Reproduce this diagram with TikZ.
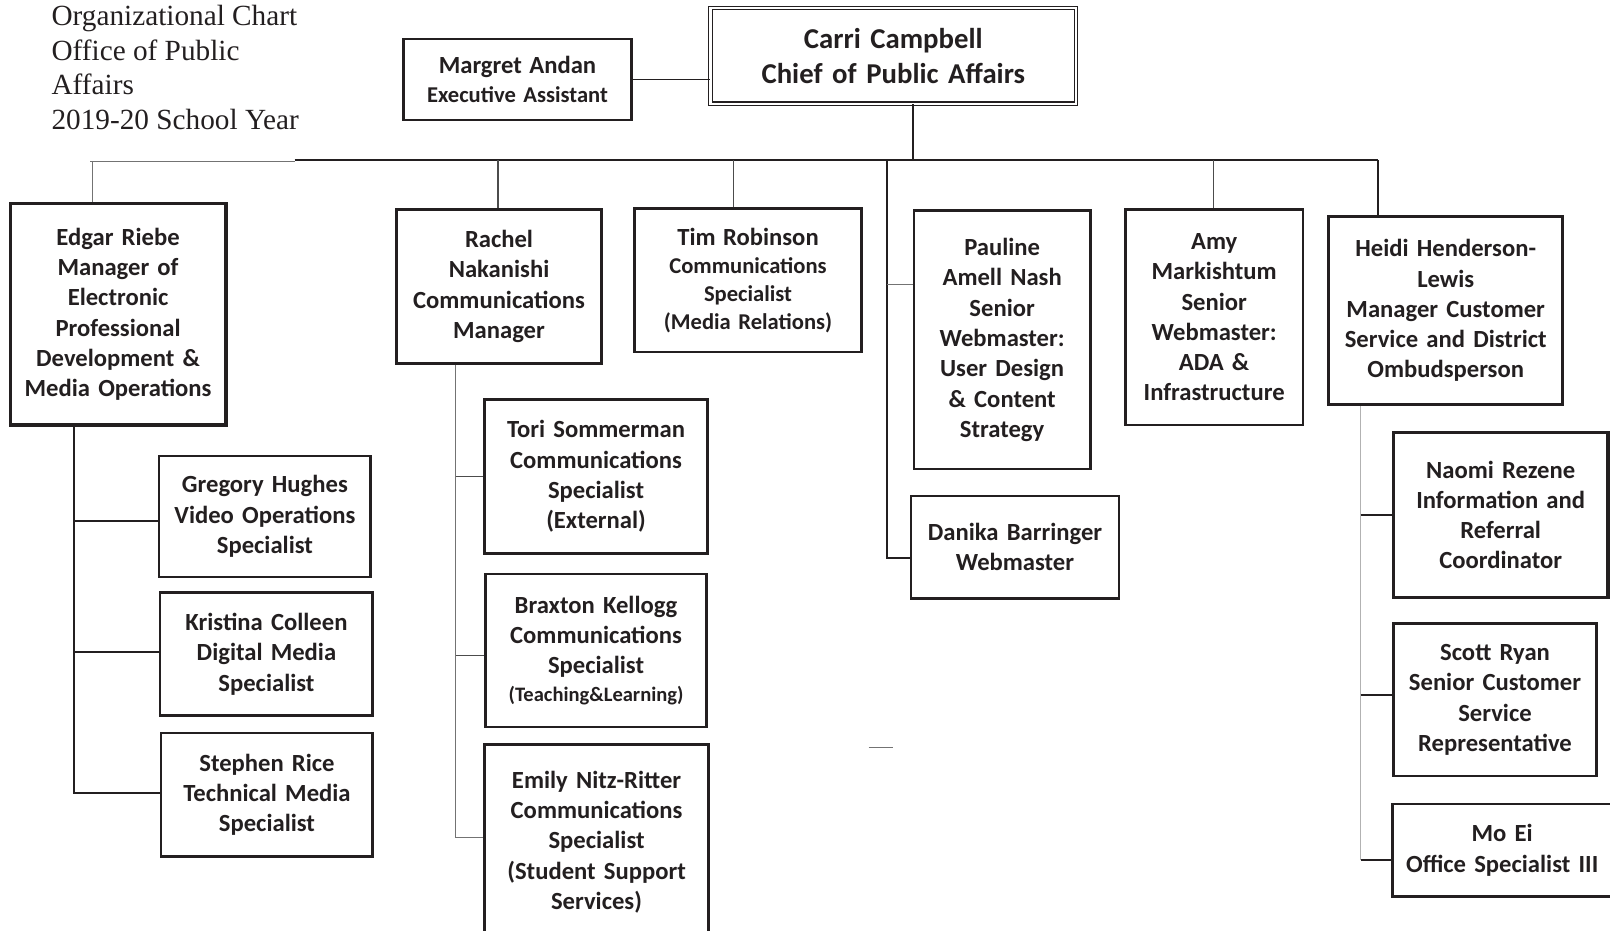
\documentclass[tikz,border=0pt]{standalone}
\usepackage{fontspec}
\setmainfont{Liberation Serif}
\newfontfamily\carl{Carlito}
\definecolor{ink}{HTML}{231F20}
\begin{document}
\begin{tikzpicture}[x=1pt,y=-1pt,
  box/.style={draw=ink, line width=2.4pt, fill=white, text=ink, align=center, inner sep=0pt,
    font=\carl\bfseries\fontsize{24}{29.5}\selectfont},
  heavy/.style={line width=3.2pt},
  link/.style={draw=ink, line width=2pt},
  fine/.style={draw=black!55, line width=1pt},
  pale/.style={draw=black!30, line width=1.3pt}]
\useasboundingbox (0,0) rectangle (1568,906);

% title
\node[anchor=north west, align=left, inner sep=0pt, text=ink,
  font=\fontsize{28.5}{34}\selectfont] (title) at (50,4.5)
  {Organizational Chart\\Office of Public\\Affairs\\2019-20 School Year};

% top level
\node[box, minimum width=222pt, minimum height=79pt, text width=216pt,
  font=\carl\bfseries\fontsize{22}{28}\selectfont] (margret) at (504,77.5)
  {{\fontsize{24}{28}\selectfont Margret Andan}\\Executive Assistant};
\node[box, double, double distance=2.2pt, line width=1.1pt, minimum width=356pt,
  minimum height=93pt, text width=340pt, font=\carl\bfseries\fontsize{28}{34}\selectfont]
  (carri) at (870,54.5) {Carri Campbell\\Chief of Public Affairs};

% managers
\node[box, heavy, minimum width=210pt, minimum height=216pt, text width=204pt] (edgar) at (115,306)
  {Edgar Riebe\\Manager of\\Electronic\\Professional\\Development \&\\Media Operations};
\node[box, minimum width=200pt, minimum height=150pt, text width=194pt] (rachel) at (486,279)
  {Rachel\\Nakanishi\\Communications\\Manager};
\node[box, minimum width=221pt, minimum height=140pt, text width=215pt,
  font=\carl\bfseries\fontsize{22}{27.3}\selectfont] (tim) at (728.5,273)
  {{\fontsize{24}{27.3}\selectfont Tim Robinson}\\Communications\\Specialist\\(Media Relations)};
\node[box, minimum width=172pt, minimum height=252pt, text width=166pt] (pauline) at (976,331)
  {Pauline\\Amell Nash\\Senior\\Webmaster:\\User Design\\\& Content\\Strategy};
\node[box, minimum width=173pt, minimum height=210pt, text width=167pt] (amy) at (1182.5,309)
  {Amy\\Markishtum\\Senior\\Webmaster:\\ADA \&\\Infrastructure};
\node[box, heavy, minimum width=228pt, minimum height=183pt, text width=222pt] (heidi) at (1408,302.5)
  {Heidi Henderson-\\Lewis\\Manager Customer\\Service and District\\Ombudsperson};
\node[box, minimum width=203pt, minimum height=100pt, text width=197pt] (danika) at (988.5,533)
  {Danika Barringer\\Webmaster};

% Edgar's staff
\node[box, minimum width=206pt, minimum height=118pt, text width=200pt] (gregory) at (258,503)
  {Gregory Hughes\\Video Operations\\Specialist};
\node[box, minimum width=207pt, minimum height=120pt, text width=201pt] (kristina) at (259.5,637)
  {Kristina Colleen\\Digital Media\\Specialist};
\node[box, minimum width=206pt, minimum height=120pt, text width=200pt] (stephen) at (260,774)
  {Stephen Rice\\Technical Media\\Specialist};

% Rachel's staff
\node[box, minimum width=217pt, minimum height=150pt, text width=211pt] (tori) at (580.5,464)
  {Tori Sommerman\\Communications\\Specialist\\(External)};
\node[box, minimum width=215pt, minimum height=149pt, text width=209pt] (braxton) at (580.5,633.5)
  {Braxton Kellogg\\Communications\\Specialist\\[-2.5pt]{\fontsize{20}{24}\selectfont(Teaching\&Learning)}};
\node[box, minimum width=218pt, minimum height=190pt, text width=212pt] (emily) at (581,820)
  {Emily Nitz-Ritter\\Communications\\Specialist\\(Student Support\\Services)};

% Heidi's staff
\node[box, heavy, minimum width=209pt, minimum height=161pt, text width=203pt] (naomi) at (1461.5,501.5)
  {Naomi Rezene\\Information and\\Referral\\Coordinator};
\node[box, minimum width=198pt, minimum height=149pt, text width=192pt] (scott) at (1456,681.5)
  {Scott Ryan\\Senior Customer\\Service\\Representative};
\node[box, minimum width=214pt, minimum height=90pt, text width=208pt] (moei) at (1463,828)
  {Mo Ei\\Office Specialist III};

% bus
\coordinate (busA) at (88,157);
\coordinate (busB) at (287,157);
\coordinate (busC) at (1342,156);
\draw[fine] (busA) -- (busB);
\draw[link, line width=2.4pt] (busB |- busC) -- (busC);

% top connectors
\draw[link, line width=1.6pt] (margret.east) -- (margret.east -| carri.west);
\coordinate (dC) at (889,156);
\draw[link] (dC) -- (dC |- carri.south);

% drops
\coordinate (dE) at (90,157);
\draw[fine] (dE) -- (dE |- edgar.north);
\coordinate (dR) at (485,156);
\draw[fine, draw=black!70] (dR) -- (dR |- rachel.north);
\coordinate (dT) at (714,156);
\draw[fine, draw=black!70] (dT) -- (dT |- tim.north);
\coordinate (dA) at (1182,156);
\draw[fine, draw=black!70] (dA) -- (dA |- amy.north);
\draw[link, line width=2.2pt] (busC) -- (busC |- heidi.north);
\coordinate (dP) at (864,156);
\draw[link] (dP) |- ([yshift=-10pt]danika.west);
\coordinate (pJ) at (864,277);
\draw[fine] (pJ) -- (pJ -| pauline.west);

% Edgar subtree
\coordinate (eV) at (72,0);
\draw[link, line width=2.2pt] (eV |- edgar.south) |- ([yshift=2pt]stephen.west);
\draw[link] (eV |- gregory.west) ++(0,4) -- ([yshift=-4pt]gregory.west);
\draw[link] (eV |- kristina.west) ++(0,-2) -- ([yshift=2pt]kristina.west);

% Rachel subtree
\coordinate (rV) at (444,0);
\draw[fine] (rV |- rachel.south) |- ([yshift=4pt]emily.west);
\draw[fine, draw=black!70] (rV |- tori.west) -- (tori.west);
\draw[fine, draw=black!70] ([yshift=-4.5pt]braxton.west -| rV) -- ([yshift=-4.5pt]braxton.west);

% Heidi subtree
\coordinate (hV) at (1325,0);
\draw[pale] (hV |- heidi.south) -- ([yshift=-10pt]moei.west -| hV);
\draw[link] (hV |- naomi.west) -- (naomi.west);
\draw[link] ([yshift=4.5pt]scott.west -| hV) -- ([yshift=4.5pt]scott.west);
\draw[link] ([yshift=-10pt]moei.west -| hV) -- ([yshift=-10pt]moei.west);

% stray fragment
\coordinate (s1) at (846,728);
\coordinate (s2) at (870,728);
\draw[fine] (s1) -- (s2);
\end{tikzpicture}
\end{document}
